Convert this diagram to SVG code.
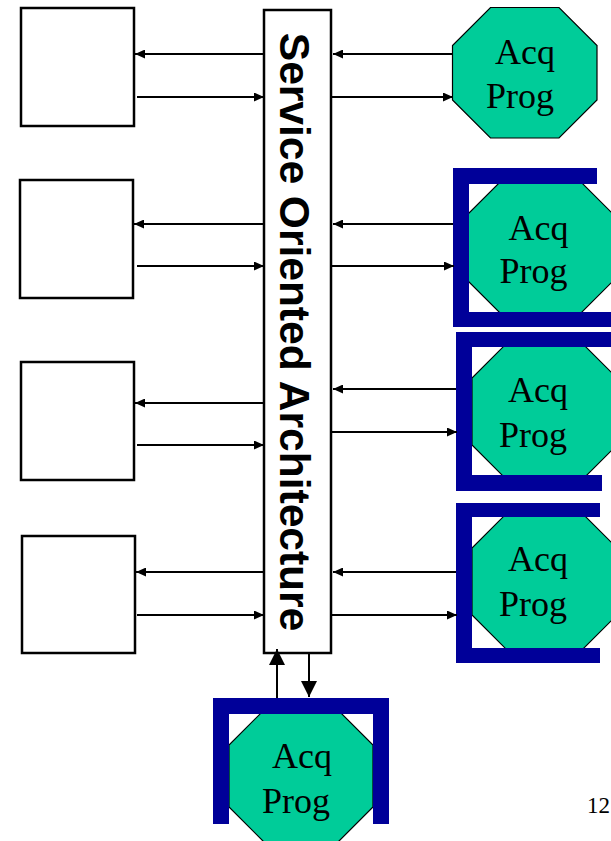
<svg xmlns="http://www.w3.org/2000/svg" width="611" height="841" viewBox="0 0 611 841">
<style>
.box{fill:#fff;stroke:#000;stroke-width:2.5}
.oct{fill:#00CC99;stroke:#000;stroke-width:1.2}
.brk{fill:#000099}
.lbl{font-family:"Liberation Serif","Times New Roman",serif;font-size:36px;fill:#000;text-anchor:middle}
.soa{font-family:"Liberation Sans",Arial,sans-serif;font-weight:bold;font-size:42.5px;fill:#000;text-anchor:middle}
.arr{stroke:#000;stroke-width:2;fill:none;marker-end:url(#ah)}
.arrL{stroke:#000;stroke-width:2;fill:none;marker-end:url(#ahL)}
</style>
<defs>
<marker id="ah" markerUnits="userSpaceOnUse" viewBox="0 0 10 9" markerWidth="10" markerHeight="9" refX="10" refY="4.5" orient="auto"><path d="M0,0 L10,4.5 L0,9 Z" fill="#000"/></marker>
<marker id="ahL" markerUnits="userSpaceOnUse" viewBox="0 0 16 16" markerWidth="16" markerHeight="16" refX="16" refY="8" orient="auto"><path d="M0,0 L16,8 L0,16 Z" fill="#000"/></marker>
</defs>
<rect width="611" height="841" fill="#fff"/>

<g id="client1"><rect class="box" x="21" y="8" width="113" height="118"/></g>
<g id="client2"><rect class="box" x="20" y="180" width="113" height="118"/></g>
<g id="client3"><rect class="box" x="21" y="362" width="113" height="118"/></g>
<g id="client4"><rect class="box" x="22" y="536" width="113" height="117"/></g>

<g id="soa">
<rect class="box" x="264" y="10" width="67" height="643"/>
<text class="soa" transform="translate(280,332) rotate(90)">Service Oriented Architecture</text>
</g>

<g id="acq1">
<polygon class="oct" points="490.5,7.5 559,7.5 597,45.5 597,100 559,138 490.5,138 452.5,100 452.5,45.5"/>
<text class="lbl" x="525" y="64">Acq</text>
<text class="lbl" x="520" y="108">Prog</text>
</g>

<g id="acq2">
<polygon class="oct" points="506,176 575,176 613,214 613,281 575,319 506,319 468,281 468,214"/>
<rect class="brk" x="453" y="168" width="144" height="16"/>
<rect class="brk" x="453" y="168" width="16" height="159"/>
<rect class="brk" x="453" y="312" width="158" height="15"/>
<text class="lbl" x="538.5" y="240">Acq</text>
<text class="lbl" x="533.5" y="283">Prog</text>
</g>

<g id="acq3">
<polygon class="oct" points="510,340 579,340 617,378 617,445 579,483 510,483 472,445 472,378"/>
<rect class="brk" x="456" y="332" width="155" height="15"/>
<rect class="brk" x="456" y="332" width="16" height="159"/>
<rect class="brk" x="456" y="475" width="146" height="16"/>
<text class="lbl" x="538" y="402">Acq</text>
<text class="lbl" x="533" y="447">Prog</text>
</g>

<g id="acq4">
<polygon class="oct" points="510,510 579,510 617,548 617,615 579,653 510,653 472,615 472,548"/>
<rect class="brk" x="456" y="503" width="144" height="14"/>
<rect class="brk" x="456" y="503" width="16" height="160"/>
<rect class="brk" x="456" y="648" width="144" height="15"/>
<text class="lbl" x="538" y="571">Acq</text>
<text class="lbl" x="533" y="616">Prog</text>
</g>

<g id="acq5">
<polygon class="oct" points="267,707 335,707 373,745 373,807 335,845 267,845 229,807 229,745"/>
<rect class="brk" x="213" y="698" width="176" height="16"/>
<rect class="brk" x="213" y="698" width="16" height="126"/>
<rect class="brk" x="373" y="698" width="16" height="126"/>
<text class="lbl" x="302" y="768">Acq</text>
<text class="lbl" x="296" y="813">Prog</text>
</g>

<g id="connectors">
<path class="arr" d="M264,54 L135,54"/>
<path class="arr" d="M137,97 L264,97"/>
<path class="arr" d="M264,224 L134,224"/>
<path class="arr" d="M137,266 L264,266"/>
<path class="arr" d="M264,403 L135,403"/>
<path class="arr" d="M137,445 L264,445"/>
<path class="arr" d="M264,572 L136,572"/>
<path class="arr" d="M137,615 L264,615"/>
<path class="arr" d="M452,54 L333,54"/>
<path class="arr" d="M332,97 L453,97"/>
<path class="arr" d="M453,224 L333,224"/>
<path class="arr" d="M332,266 L454,266"/>
<path class="arr" d="M456,389 L333,389"/>
<path class="arr" d="M332,432 L457,432"/>
<path class="arr" d="M456,572 L333,572"/>
<path class="arr" d="M332,615 L457,615"/>
<path class="arrL" d="M277,698 L277,649"/>
<path class="arrL" d="M309,653 L309,697"/>
</g>

<text x="598.5" y="813" style="font-family:'Liberation Serif','Times New Roman',serif;font-size:23px;text-anchor:middle;fill:#000">12</text>
</svg>
